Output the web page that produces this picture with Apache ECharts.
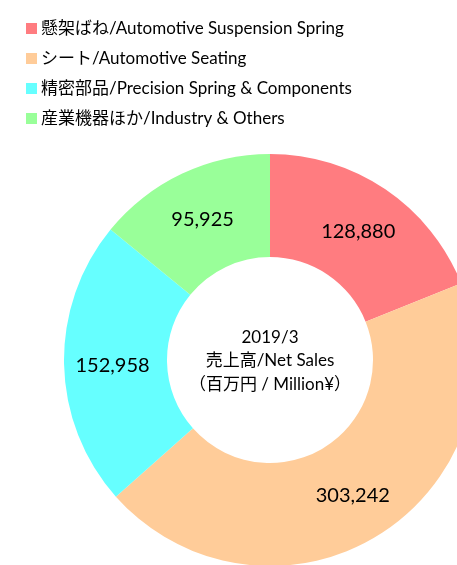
<!DOCTYPE html>
<html>
<head>
<meta charset="utf-8">
<script src="https://cdn.jsdelivr.net/npm/echarts@6/dist/echarts.min.js"></script>
<style>
  html, body { margin: 0; padding: 0; background: #fff; }
  #chart { width: 457px; height: 565px; }
</style>
</head>
<body>
<div id="chart"></div>
<script>
// 区分・売上データ
const segmentNames = [
  '懸架ばね/Automotive Suspension Spring',
  'シート/Automotive Seating',
  '精密部品/Precision Spring & Components',
  '産業機器ほか/Industry & Others'
];
const salesValues = [128880, 303242, 152958, 95925];
const segmentColors = ['#FF7C80', '#FFCC99', '#66FFFF', '#99FF99'];
const centerLines = ['2019/3', '売上高/Net Sales', '（百万円 / Million¥）'];

const fontStack = 'Lato, "Noto Sans CJK JP", sans-serif';

const chart = echarts.init(document.getElementById('chart'));
const option = {
  animation: false,
  color: segmentColors,
  legend: {
    orient: 'vertical',
    left: 21,
    top: 15,
    itemWidth: 11,
    itemHeight: 11,
    itemGap: 13,
    icon: 'rect',
    data: segmentNames,
    textStyle: {
      fontFamily: fontStack,
      fontSize: 17,
      color: '#000',
      padding: [0, 0, 0, -1]
    }
  },
  // 中央のテキスト
  graphic: [{
    type: 'text',
    x: 270,
    y: 361,
    style: {
      text: centerLines.join('\n'),
      align: 'center',
      verticalAlign: 'middle',
      fontFamily: fontStack,
      fontSize: 17,
      lineHeight: 23.5,
      fill: '#000'
    }
  }],
  series: [{
    type: 'pie',
    center: [270, 360],
    radius: [103, 206],
    startAngle: 90,
    clockwise: true,
    avoidLabelOverlap: false,
    data: segmentNames.map((name, i) => ({ name: name, value: salesValues[i] })),
    itemStyle: { borderWidth: 0 },
    label: {
      show: true,
      position: 'inside',
      formatter: p => p.value.toLocaleString('en-US'),
      fontFamily: fontStack,
      fontSize: 20,
      color: '#000',
      offset: [0, 2]
    },
    labelLine: { show: false },
    emphasis: { disabled: true }
  }]
};
chart.setOption(option);
</script>
</body>
</html>
